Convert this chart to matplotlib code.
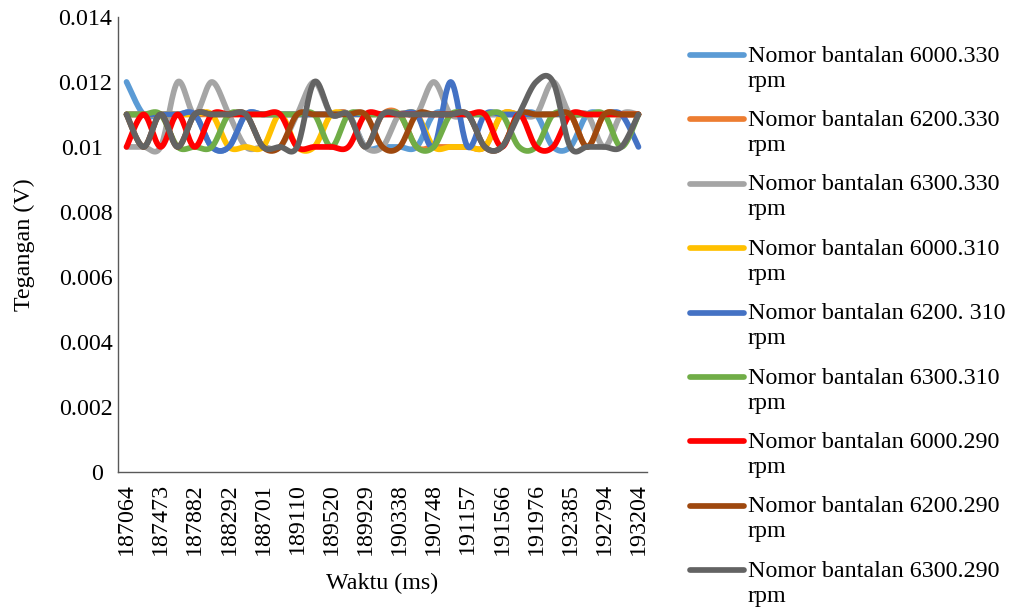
import numpy as np
import matplotlib
matplotlib.use("Agg")
import matplotlib.pyplot as plt
from matplotlib.lines import Line2D
import matplotlib.transforms as mtransforms

# Sample times (ms), one sample every ~204.7 ms
waktu = [187064, 187269, 187473, 187678, 187882, 188087, 188292, 188496,
         188701, 188906, 189110, 189315, 189520, 189724, 189929, 190134,
         190338, 190543, 190748, 190952, 191157, 191362, 191566, 191771,
         191976, 192180, 192385, 192590, 192794, 192999, 193204]

# Voltage readings (V) for each bearing / speed combination
v_6000_330 = [0.012, 0.011, 0.011, 0.011, 0.011, 0.010, 0.010, 0.011, 0.011, 0.011,
              0.011, 0.011, 0.011, 0.011, 0.010, 0.010, 0.010, 0.010, 0.011, 0.011,
              0.011, 0.011, 0.011, 0.011, 0.011, 0.010, 0.010, 0.011, 0.011, 0.011, 0.011]
v_6200_330 = [0.011, 0.011, 0.011, 0.011, 0.011, 0.011, 0.011, 0.011, 0.011, 0.011,
              0.011, 0.011, 0.011, 0.011, 0.010, 0.011, 0.011, 0.010, 0.010, 0.010,
              0.010, 0.010, 0.011, 0.011, 0.011, 0.011, 0.011, 0.010, 0.011, 0.011, 0.011]
v_6300_330 = [0.010, 0.010, 0.010, 0.012, 0.011, 0.012, 0.011, 0.010, 0.010, 0.010,
              0.011, 0.012, 0.011, 0.011, 0.010, 0.010, 0.011, 0.011, 0.012, 0.011,
              0.011, 0.011, 0.011, 0.011, 0.011, 0.012, 0.011, 0.011, 0.010, 0.011, 0.011]
v_6000_310 = [0.011, 0.011, 0.011, 0.011, 0.011, 0.011, 0.010, 0.010, 0.010, 0.011,
              0.010, 0.010, 0.011, 0.011, 0.011, 0.011, 0.011, 0.011, 0.010, 0.010,
              0.010, 0.010, 0.011, 0.011, 0.011, 0.011, 0.011, 0.011, 0.011, 0.011, 0.011]
v_6200_310 = [0.011, 0.011, 0.011, 0.011, 0.011, 0.010, 0.010, 0.011, 0.011, 0.011,
              0.011, 0.011, 0.011, 0.011, 0.011, 0.011, 0.011, 0.011, 0.010, 0.012,
              0.010, 0.011, 0.011, 0.011, 0.011, 0.011, 0.011, 0.011, 0.011, 0.011, 0.010]
v_6300_310 = [0.011, 0.011, 0.011, 0.010, 0.010, 0.010, 0.011, 0.011, 0.011, 0.011,
              0.011, 0.011, 0.010, 0.011, 0.011, 0.011, 0.011, 0.010, 0.010, 0.011,
              0.011, 0.011, 0.011, 0.010, 0.010, 0.011, 0.011, 0.011, 0.011, 0.010, 0.011]
v_6000_290 = [0.010, 0.011, 0.010, 0.011, 0.010, 0.011, 0.011, 0.011, 0.011, 0.011,
              0.010, 0.010, 0.010, 0.010, 0.011, 0.011, 0.011, 0.011, 0.011, 0.011,
              0.011, 0.011, 0.010, 0.011, 0.010, 0.010, 0.011, 0.011, 0.011, 0.011, 0.011]
v_6200_290 = [0.011, 0.010, 0.011, 0.010, 0.011, 0.011, 0.011, 0.011, 0.010, 0.010,
              0.011, 0.011, 0.011, 0.011, 0.011, 0.010, 0.010, 0.011, 0.011, 0.011,
              0.011, 0.010, 0.010, 0.011, 0.011, 0.011, 0.011, 0.010, 0.011, 0.011, 0.011]
v_6300_290 = [0.011, 0.010, 0.011, 0.010, 0.011, 0.011, 0.011, 0.011, 0.010, 0.010,
              0.010, 0.012, 0.011, 0.011, 0.010, 0.011, 0.011, 0.011, 0.011, 0.011,
              0.011, 0.010, 0.010, 0.011, 0.012, 0.012, 0.010, 0.010, 0.010, 0.010, 0.011]

series_names = ["Nomor bantalan 6000.330 rpm", "Nomor bantalan 6200.330 rpm",
                "Nomor bantalan 6300.330 rpm", "Nomor bantalan 6000.310 rpm",
                "Nomor bantalan 6200. 310 rpm", "Nomor bantalan 6300.310 rpm",
                "Nomor bantalan 6000.290 rpm", "Nomor bantalan 6200.290 rpm",
                "Nomor bantalan 6300.290 rpm"]
series_values = [v_6000_330, v_6200_330, v_6300_330, v_6000_310, v_6200_310,
                 v_6300_310, v_6000_290, v_6200_290, v_6300_290]
series_colors = ["#5B9BD5", "#ED7D31", "#A5A5A5", "#FFC000", "#4472C4",
                 "#70AD47", "#FF0000", "#9E480E", "#636363"]

y_ticks = [0, 0.002, 0.004, 0.006, 0.008, 0.01, 0.012, 0.014]
y_ticklabels = ["0", "0.002", "0.004", "0.006", "0.008", "0.01", "0.012", "0.014"]


def smooth_curve(x, y, n=30):
    """Catmull-Rom style cubic Bezier through every point (spreadsheet 'smoothed line')."""
    pts = np.column_stack([np.asarray(x, float), np.asarray(y, float)])
    ext = np.vstack([pts[0], pts, pts[-1]])
    segs = []
    for k in range(len(pts) - 1):
        p0, p1, p2, p3 = ext[k], ext[k + 1], ext[k + 2], ext[k + 3]
        c1 = p1 + (p2 - p0) / 6.0
        c2 = p2 - (p3 - p1) / 6.0
        t = np.linspace(0, 1, n, endpoint=(k == len(pts) - 2))[:, None]
        b = ((1 - t) ** 3) * p1 + 3 * ((1 - t) ** 2) * t * c1 + 3 * (1 - t) * t ** 2 * c2 + t ** 3 * p2
        segs.append(b)
    out = np.vstack(segs)
    return out[:, 0], out[:, 1]


FONT = ["Liberation Serif", "DejaVu Serif"]
FS = 17.3
LW = 4.1
plt.rcParams["font.family"] = FONT

W, H = 1011, 609
fig = plt.figure(figsize=(W / 100, H / 100), dpi=100)
ax_left, ax_right, ax_top, ax_bottom = 118, 647, 17, 471.7
ax = fig.add_axes([ax_left / W, 1 - ax_bottom / H, (ax_right - ax_left) / W, (ax_bottom - ax_top) / H])

for vals, col in zip(series_values, series_colors):
    xs, ys = smooth_curve(waktu, vals)
    ax.plot(xs, ys, color=col, lw=LW, solid_capstyle="round", solid_joinstyle="round")

step = (waktu[-1] - waktu[0]) / (len(waktu) - 1)
ax.set_xlim(waktu[0] - step / 2, waktu[-1] + step / 2)
ax.set_ylim(0, 0.014)

ax.set_xticks(waktu[::2])
ax.set_xticklabels([str(t) for t in waktu[::2]], rotation=90, fontsize=FS)
ax.set_yticks(y_ticks)
ax.set_yticklabels(y_ticklabels, fontsize=FS)
ax.tick_params(axis="both", length=0)
ax.tick_params(axis="x", pad=8)
ax.tick_params(axis="y", pad=4)

# shorter value labels sit a little further from the axis
short_shift = mtransforms.ScaledTranslation(-9 / 100, 0, fig.dpi_scale_trans)
for lab in ax.get_yticklabels():
    if len(lab.get_text()) < 5:
        lab.set_transform(lab.get_transform() + short_shift)

for side in ("top", "right"):
    ax.spines[side].set_visible(False)
for side in ("left", "bottom"):
    ax.spines[side].set_color("#595959")
    ax.spines[side].set_linewidth(1.0)

ax.set_ylabel("Tegangan (V)", fontsize=FS)
ax.yaxis.set_label_coords(-0.157, 0.5)
ax.set_xlabel("Waktu (ms)", fontsize=FS)
ax.xaxis.set_label_coords(0.5, -0.222)

# Legend: line sample beside a two-line label
for k, (name, col) in enumerate(zip(series_names, series_colors)):
    y_px = 55 + 64.4 * k
    fig.add_artist(Line2D([690 / W, 744 / W], [1 - y_px / H] * 2, color=col, lw=LW,
                          solid_capstyle="round", transform=fig.transFigure))
    first, second = name.rsplit(" ", 1)
    fig.text(748 / W, 1 - (y_px + 1) / H, first, fontsize=FS, ha="left", va="center")
    fig.text(748 / W, 1 - (y_px + 26) / H, second, fontsize=FS, ha="left", va="center")

fig.savefig("out.png", dpi=100)
